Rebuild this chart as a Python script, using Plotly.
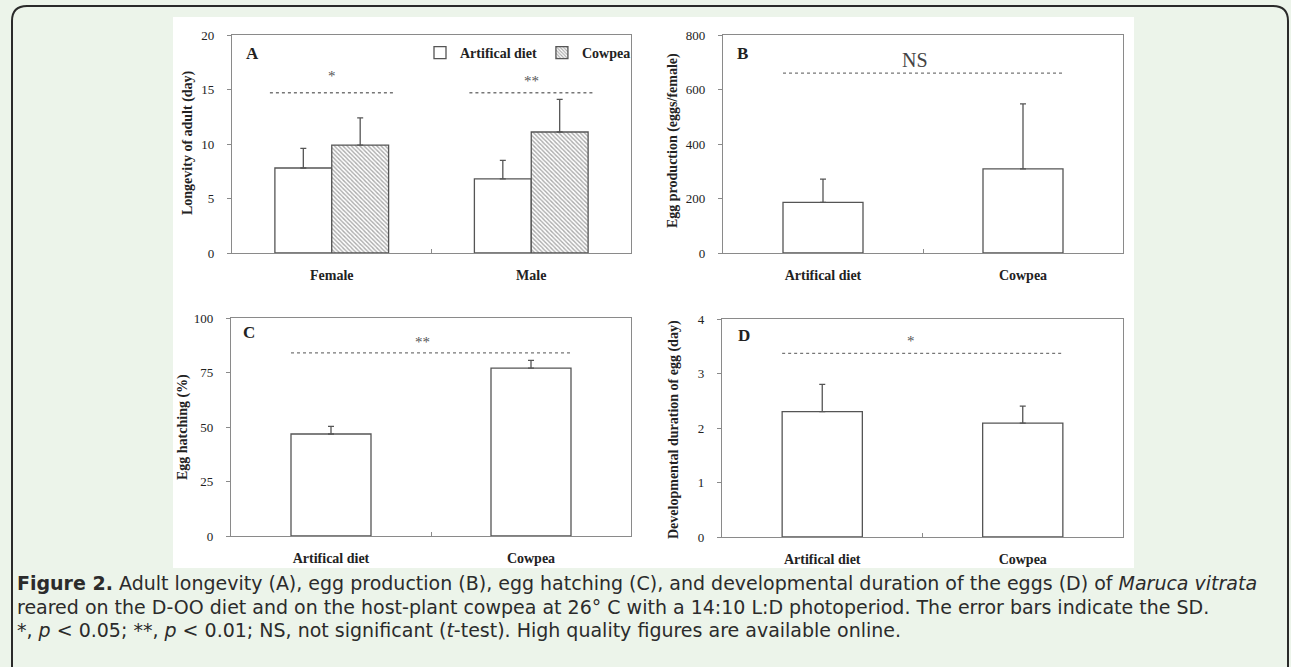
import plotly.graph_objects as go

W, H = 1291, 667

# ---------------- data ----------------
sexes = ["Female", "Male"]
diets = ["Artifical diet", "Cowpea"]

# Panel A: longevity of adult (day)
longevity_art = [7.8, 6.8]
longevity_art_sd = [1.8, 1.7]
longevity_cow = [9.9, 11.1]
longevity_cow_sd = [2.5, 3.0]
sig_A_labels = ["*", "**"]
sig_A_line = 14.7
sig_A_text = [16.2, 15.8]

# Panel B: egg production (eggs/female)
eggprod = [186, 309]
eggprod_sd = [85, 238]
sig_B_label = "NS"
sig_B_line = 660
sig_B_text = 708

# Panel C: egg hatching (%)
hatch = [46.8, 77.0]
hatch_sd = [3.5, 3.6]
sig_C_label = "**"
sig_C_line = 84
sig_C_text = 89

# Panel D: developmental duration of egg (day)
devdur = [2.3, 2.09]
devdur_sd = [0.5, 0.31]
sig_D_label = "*"
sig_D_line = 3.37
sig_D_text = 3.6

caption_lines = [
    "<b>Figure 2.</b> Adult longevity (A), egg production (B), egg hatching (C), and developmental duration of the eggs (D) of <i>Maruca vitrata</i>",
    "reared on the D-OO diet and on the host-plant cowpea at 26° C with a 14:10 L:D photoperiod. The error bars indicate the SD.",
    "*, <i>p</i> &lt; 0.05; **, <i>p</i> &lt; 0.01; NS, not significant (<i>t</i>-test). High quality figures are available online.",
]

# ---------------- helpers ----------------
def px_x(v):
    return v / W

def px_y(v):
    return 1 - v / H

SERIF = "Liberation Serif"
AXC = "#8a8a8a"
BARLINE = "#555555"
TXT = "#222222"

bar_line = dict(color=BARLINE, width=1.3)
err_style = dict(type="data", symmetric=False, color=BARLINE, thickness=1.3, width=3)

def err(arr):
    return dict(err_style, array=arr, arrayminus=[0] * len(arr))

fig = go.Figure()

# Panel A
fig.add_trace(go.Bar(
    x=sexes, y=longevity_art, name=diets[0], xaxis="x", yaxis="y",
    width=0.285, offset=-0.285,
    marker=dict(color="white", line=bar_line),
    error_y=err(longevity_art_sd), showlegend=True,
))
fig.add_trace(go.Bar(
    x=sexes, y=longevity_cow, name=diets[1], xaxis="x", yaxis="y",
    width=0.285, offset=0,
    marker=dict(color="white", line=bar_line,
                pattern=dict(shape="\\", fgcolor="#555555", bgcolor="white", size=3, solidity=0.45)),
    error_y=err(longevity_cow_sd), showlegend=True,
))
# Panel B
fig.add_trace(go.Bar(
    x=diets, y=eggprod, xaxis="x2", yaxis="y2", width=0.4,
    marker=dict(color="white", line=bar_line), error_y=err(eggprod_sd), showlegend=False,
))
# Panel C
fig.add_trace(go.Bar(
    x=diets, y=hatch, xaxis="x3", yaxis="y3", width=0.4,
    marker=dict(color="white", line=bar_line), error_y=err(hatch_sd), showlegend=False,
))
# Panel D
fig.add_trace(go.Bar(
    x=diets, y=devdur, xaxis="x4", yaxis="y4", width=0.4,
    marker=dict(color="white", line=bar_line), error_y=err(devdur_sd), showlegend=False,
))

def xaxis(dom, anchor):
    return dict(
        domain=dom, anchor=anchor, type="category", range=[-0.5, 1.5],
        showline=True, linecolor=AXC, linewidth=1.3, mirror=True,
        ticks="inside", tickson="boundaries", ticklen=4, tickcolor=AXC,
        showgrid=False, zeroline=False, ticklabelstandoff=9,
        tickfont=dict(family=SERIF, size=14, color=TXT, weight="bold"),
    )

def yaxis(dom, anchor, rng, dtick):
    return dict(
        domain=dom, anchor=anchor, range=rng, dtick=dtick,
        showline=True, linecolor=AXC, linewidth=1.3, mirror=True,
        ticks="outside", ticklen=4, tickcolor=AXC,
        showgrid=False, zeroline=False, ticklabelstandoff=10,
        tickfont=dict(family=SERIF, size=13, color=TXT),
    )

layout = dict(
    width=W, height=H, margin=dict(l=0, r=0, t=0, b=0, pad=0, autoexpand=False),
    paper_bgcolor="#ECF4EA", plot_bgcolor="white",
    barmode="overlay",
    xaxis=xaxis([px_x(232), px_x(631)], "y"),
    yaxis=yaxis([px_y(253), px_y(35)], "x", [0, 20], 5),
    xaxis2=xaxis([px_x(723), px_x(1123)], "y2"),
    yaxis2=yaxis([px_y(253), px_y(35)], "x2", [0, 800], 200),
    xaxis3=xaxis([px_x(231), px_x(631)], "y3"),
    yaxis3=yaxis([px_y(536), px_y(318)], "x3", [0, 100], 25),
    xaxis4=xaxis([px_x(722), px_x(1123)], "y4"),
    yaxis4=yaxis([px_y(537), px_y(319)], "x4", [0, 4], 1),
    legend=dict(
        x=px_x(636), xanchor="right", y=px_y(53), yanchor="middle",
        orientation="h", bgcolor="rgba(0,0,0,0)", itemwidth=30,
        font=dict(family=SERIF, size=14, color=TXT, weight="bold"),
        traceorder="normal", tracegroupgap=0,
    ),
)
fig.update_layout(**layout)

shapes = []
# white figure area
shapes.append(dict(type="rect", xref="paper", yref="paper", layer="below",
                   x0=px_x(173), x1=px_x(1134), y0=px_y(568), y1=px_y(17),
                   fillcolor="white", line=dict(width=0)))
# rounded frame
r = 15
x0, x1, yt, yb = 12, 1288, 6, 672
path = (f"M {px_x(x0)},{px_y(yb)} L {px_x(x0)},{px_y(yt + r)} "
        f"Q {px_x(x0)},{px_y(yt)} {px_x(x0 + r)},{px_y(yt)} "
        f"L {px_x(x1 - r)},{px_y(yt)} Q {px_x(x1)},{px_y(yt)} {px_x(x1)},{px_y(yt + r)} "
        f"L {px_x(x1)},{px_y(yb)}")
shapes.append(dict(type="path", xref="paper", yref="paper", path=path,
                   line=dict(color="#2a2a2a", width=2)))

dot = dict(color="#777777", width=1.3, dash="dot")
# significance lines (category units)
for i in range(2):
    shapes.append(dict(type="line", xref="x", yref="y", x0=i - 0.31, x1=i + 0.32,
                       y0=sig_A_line, y1=sig_A_line, line=dot))
for xr, yr, yv in [("x2", "y2", sig_B_line), ("x3", "y3", sig_C_line), ("x4", "y4", sig_D_line)]:
    shapes.append(dict(type="line", xref=xr, yref=yr, x0=-0.2, x1=1.205,
                       y0=yv, y1=yv, line=dot))
fig.update_layout(shapes=shapes)

ann = []
sigfont = dict(family=SERIF, size=15, color="#555555")
for i, lab in enumerate(sig_A_labels):
    ann.append(dict(x=i, y=sig_A_text[i], xref="x", yref="y", text=lab, showarrow=False, font=sigfont,
                    xanchor="center", yanchor="middle"))
ann.append(dict(x=0.46, y=sig_B_text, xref="x2", yref="y2", text=sig_B_label, showarrow=False,
                xanchor="center", yanchor="middle",
                font=dict(family=SERIF, size=20, color="#444444")))
ann.append(dict(x=0.455, y=sig_C_text, xref="x3", yref="y3", text=sig_C_label, showarrow=False,
                xanchor="center", yanchor="middle", font=sigfont))
ann.append(dict(x=0.445, y=sig_D_text, xref="x4", yref="y4", text=sig_D_label, showarrow=False,
                xanchor="center", yanchor="middle", font=sigfont))

letfont = dict(family=SERIF, size=17, color=TXT, weight="bold")
for lab, xp, yp in [("A", 252, 53), ("B", 743, 53), ("C", 249, 332), ("D", 744, 335)]:
    ann.append(dict(x=px_x(xp), y=px_y(yp), xref="paper", yref="paper", text=lab,
                    xanchor="center", yanchor="middle", showarrow=False, font=letfont))

tfont = dict(family=SERIF, size=14, color=TXT, weight="bold")
for lab, xp, yp in [("Longevity of adult (day)", 188, 143),
                    ("Egg production (eggs/female)", 673, 141),
                    ("Egg hatching (%)", 183, 427),
                    ("Developmental duration of egg (day)", 674, 430)]:
    ann.append(dict(x=px_x(xp), y=px_y(yp), xref="paper", yref="paper", text=lab,
                    xanchor="center", yanchor="middle",
                    textangle=-90, showarrow=False, font=tfont))

for i, line in enumerate(caption_lines):
    ann.append(dict(x=px_x(15), y=px_y(583 + 23.5 * i), xref="paper", yref="paper",
                    xanchor="left", yanchor="middle", align="left", text=line,
                    showarrow=False, font=dict(family="DejaVu Sans", size=19, color="#2b2b2b")))
fig.update_layout(annotations=ann)

fig.write_html("out.html", config={"displayModeBar": False},
               post_script="document.body.style.margin='0';document.body.style.overflow='hidden';")
